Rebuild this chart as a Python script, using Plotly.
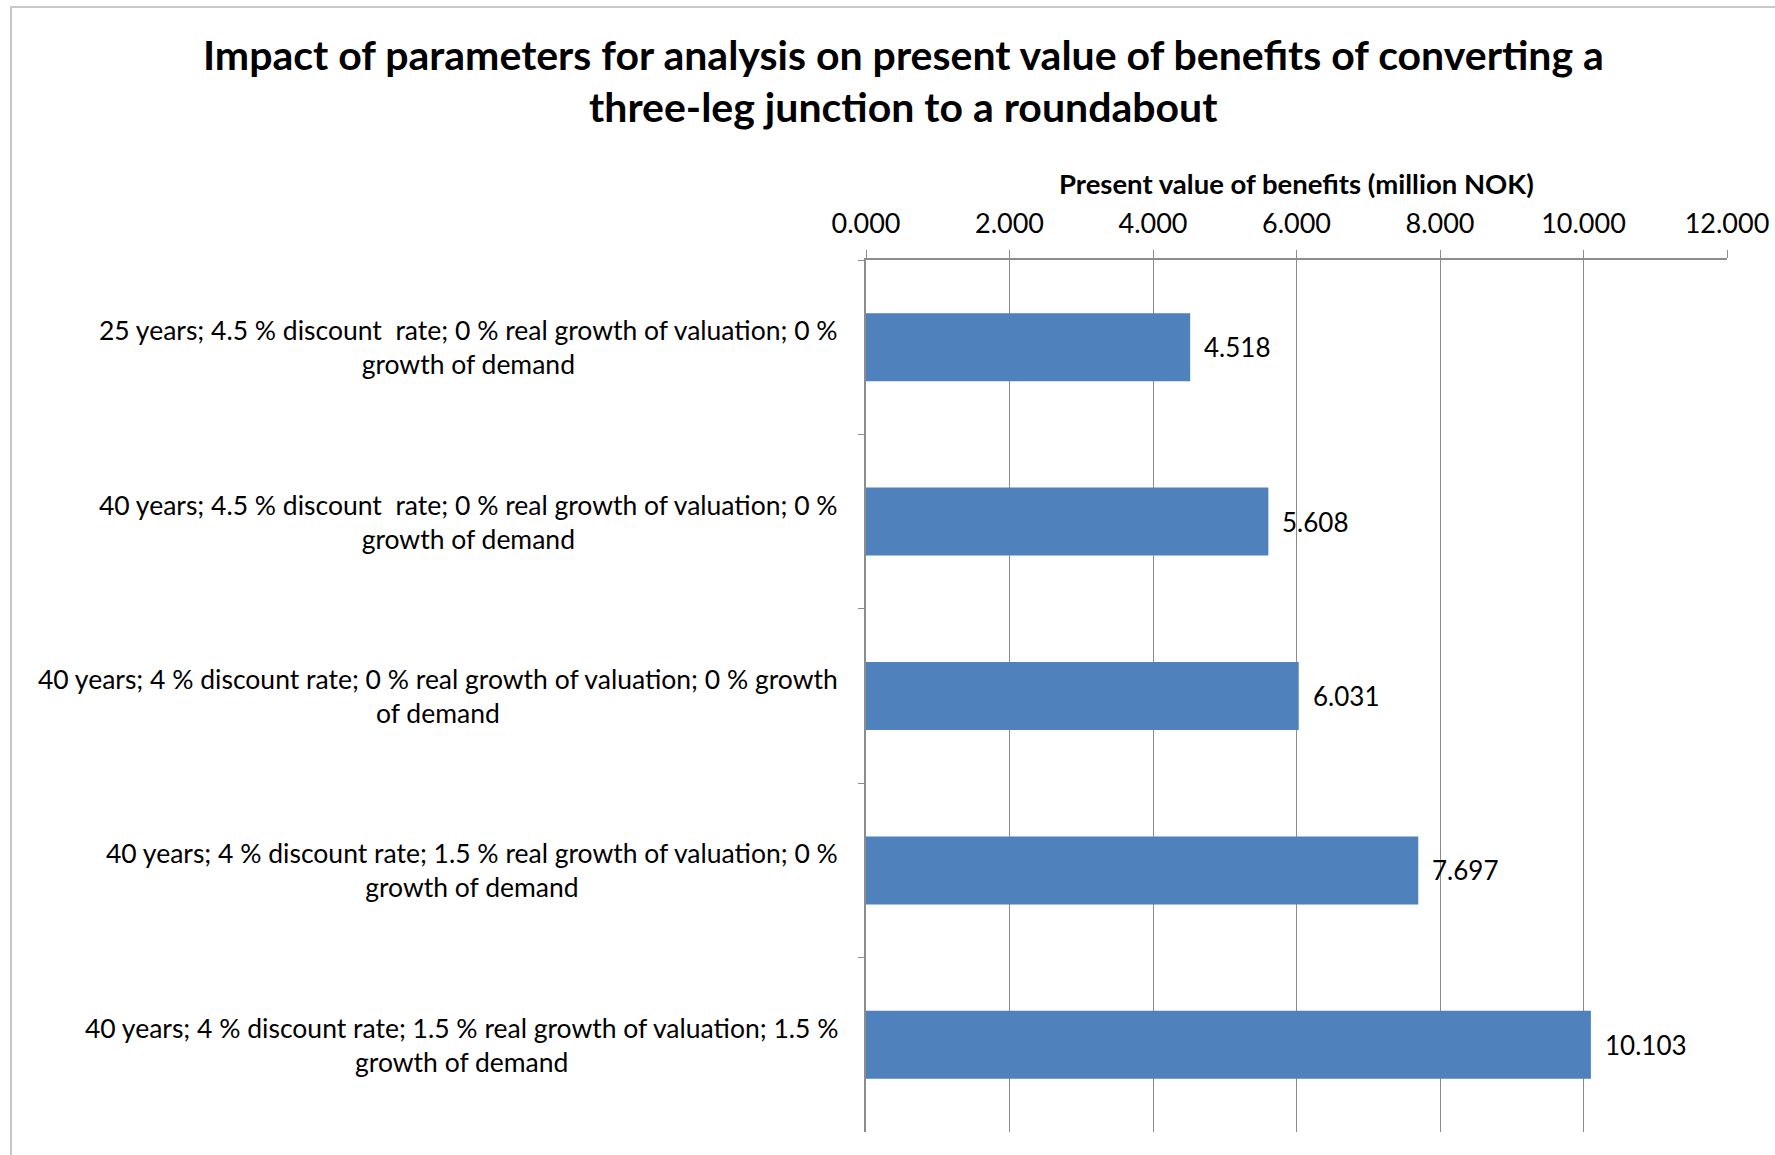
import plotly.graph_objects as go

categories = ["A", "B", "C", "D", "E"]
labels = [
    "25 years; 4.5 % discount  rate; 0 % real growth of valuation; 0 %<br>growth of demand",
    "40 years; 4.5 % discount  rate; 0 % real growth of valuation; 0 %<br>growth of demand",
    "40 years; 4 % discount rate; 0 % real growth of valuation; 0 % growth<br>of demand",
    "40 years; 4 % discount rate; 1.5 % real growth of valuation; 0 %<br>growth of demand",
    "40 years; 4 % discount rate; 1.5 % real growth of valuation; 1.5 %<br>growth of demand",
]
values = [4.518, 5.608, 6.031, 7.697, 10.103]
value_text = ["4.518", "5.608", "6.031", "7.697", "10.103"]

title_lines = [
    "Impact of parameters for analysis on present value of benefits of converting a",
    "three-leg junction to a roundabout",
]
x_title = "Present value of benefits (million NOK)"

FONT = "Lato, 'Open Sans', sans-serif"
GRID = "#8c8c8c"

fig = go.Figure()
fig.add_trace(go.Bar(
    x=values, y=categories, orientation="h",
    marker=dict(color="#4F81BD", line=dict(width=0)),
    width=0.39, hoverinfo="skip",
))

annotations = []
for c, v, t in zip(categories, values, value_text):
    annotations.append(dict(x=v, y=c, xref="x", yref="y", text=t, showarrow=False,
                            xanchor="left", yanchor="middle", xshift=12,
                            font=dict(family=FONT, size=26, color="#000")))
for c, lab in zip(categories, labels):
    annotations.append(dict(x=-0.0302, y=c, xref="paper", yref="y", text=lab, showarrow=False,
                            xanchor="right", yanchor="middle", align="center",
                            font=dict(family=FONT, size=26.5, color="#000")))
title_y = [1.2362, 1.1755]
for line, yy in zip(title_lines, title_y):
    annotations.append(dict(x=0.043, y=yy, xref="paper", yref="paper", text="<b>" + line + "</b>",
                            showarrow=False, xanchor="center", yanchor="middle",
                            font=dict(family=FONT, size=41, color="#000")))
annotations.append(dict(x=0.5, y=1.0883, xref="paper", yref="paper", text="<b>" + x_title + "</b>",
                        showarrow=False, xanchor="center", yanchor="middle",
                        font=dict(family=FONT, size=27.5, color="#000")))

fig.update_layout(
    width=1775, height=1155,
    margin=dict(l=866, r=48, t=260, b=23),
    paper_bgcolor="white", plot_bgcolor="white",
    showlegend=False,
    annotations=annotations,
    shapes=[dict(type="rect", xref="paper", yref="paper", x0=-0.993, x1=1.2, y0=-0.2, y1=1.290,
                 line=dict(color="#c8c8c8", width=2), fillcolor="rgba(0,0,0,0)", layer="below")],
    xaxis=dict(side="top", range=[0, 12], dtick=2, tick0=0, tickformat=".3f",
               showgrid=True, gridcolor=GRID, gridwidth=1,
               showline=True, linecolor=GRID, linewidth=1.5,
               ticks="outside", ticklen=8, tickcolor=GRID, ticklabelstandoff=6,
               tickfont=dict(family=FONT, size=27, color="#000"), zeroline=False,
               fixedrange=True, automargin=False),
    yaxis=dict(categoryorder="array", categoryarray=categories, autorange="reversed",
               showticklabels=False, showgrid=False, zeroline=False,
               showline=True, linecolor=GRID, linewidth=1.5,
               ticks="outside", ticklen=6, tickcolor=GRID, tickson="boundaries",
               fixedrange=True, automargin=False),
)

fig.write_html("out.html")
